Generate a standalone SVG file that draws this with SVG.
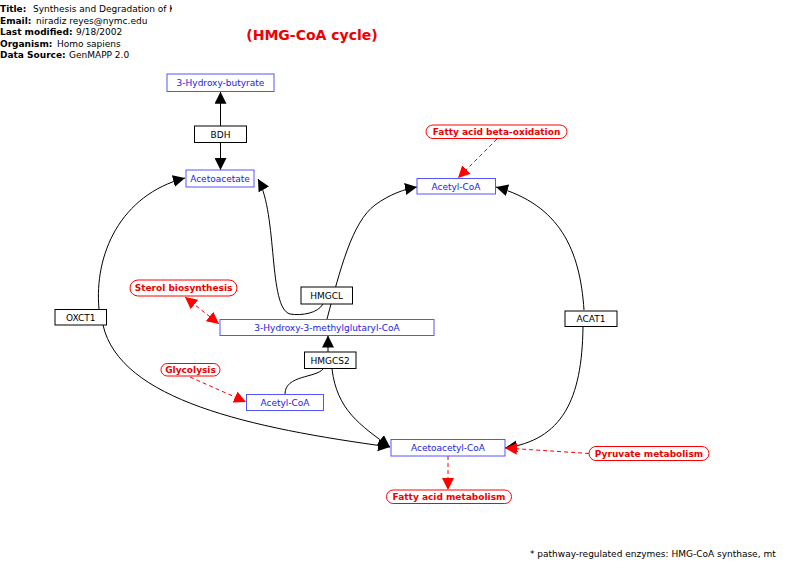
<svg xmlns="http://www.w3.org/2000/svg" width="800" height="573" viewBox="0 0 800 573">
<defs>
<style>
text{font-family:"DejaVu Sans","Noto Sans",sans-serif}
.hdr{font-size:9px;fill:#000}
.hb{font-weight:bold}
.met rect{fill:#fff;stroke:#5555ff;stroke-width:1}
.met text{fill:#2222dd;font-size:9px;text-anchor:middle}
.gene rect{fill:#fff;stroke:#000;stroke-width:1}
.gene text{fill:#000;font-size:9px;text-anchor:middle}
.pw rect{fill:#fff;stroke:#ff0000;stroke-width:1}
.pw text{fill:#ee0000;font-size:9px;font-weight:bold;text-anchor:middle}
.c{fill:none;stroke:#000;stroke-width:1}
.d{fill:none;stroke:#ff0000;stroke-width:1;stroke-dasharray:4,3}
</style>
<marker id="ab" viewBox="0 0 10 10" refX="10" refY="5" markerWidth="12" markerHeight="12" markerUnits="userSpaceOnUse" orient="auto-start-reverse"><path d="M0,0L10,5L0,10z" fill="#000"/></marker>
<marker id="ar" viewBox="0 0 10 10" refX="10" refY="5" markerWidth="12" markerHeight="12" markerUnits="userSpaceOnUse" orient="auto-start-reverse"><path d="M0,0L10,5L0,10z" fill="#ff0000"/></marker>
<clipPath id="tc"><rect x="0" y="0" width="172" height="20"/></clipPath>
</defs>
<g id="header">
<text class="hdr" x="0" y="12" clip-path="url(#tc)"><tspan class="hb">Title:</tspan><tspan x="33">Synthesis and Degradation of Ketone Bodies</tspan></text>
<text class="hdr" x="0" y="24"><tspan class="hb">Email:</tspan><tspan x="36">niradiz reyes@nymc.edu</tspan></text>
<text class="hdr" x="0" y="35"><tspan class="hb">Last modified:</tspan><tspan x="76">9/18/2002</tspan></text>
<text class="hdr" x="0" y="47"><tspan class="hb">Organism:</tspan><tspan x="57">Homo sapiens</tspan></text>
<text class="hdr" x="0" y="58"><tspan class="hb">Data Source:</tspan><tspan x="69">GenMAPP 2.0</tspan></text>
<text x="312" y="40" text-anchor="middle" style="font-size:14px;font-weight:bold;fill:#ee0000">(HMG-CoA cycle)</text>
<text class="hdr" x="530" y="557">* pathway-regulated enzymes: HMG-CoA synthase, mt</text>
</g>
<g id="connectors">
<path class="c" d="M220.5,126V91.7" marker-end="url(#ab)"/>
<path class="c" d="M220.5,142.7V170" marker-end="url(#ab)"/>
<path class="c" d="M99,309C94,255 120,195 185,178" marker-end="url(#ab)"/>
<path class="c" d="M103,325C120,400 250,428 390,447" marker-end="url(#ab)"/>
<path class="c" d="M323,304C318,313 302,316 290,314C268,308 278,215 258,179" marker-end="url(#ab)"/>
<path class="c" d="M327,319C340,270 352,222 375,205C390,194 405,189 417,187" marker-end="url(#ab)"/>
<path class="c" d="M584,310C580,250 560,205 496,187" marker-end="url(#ab)"/>
<path class="c" d="M583,327C582,400 562,440 505,448" marker-end="url(#ab)"/>
<path class="c" d="M328,352V335.5" marker-end="url(#ab)"/>
<path class="c" d="M285,394C285,375 316,378 323,369"/>
<path class="c" d="M332,369C337,410 360,425 390,447" marker-end="url(#ab)"/>
<path class="d" d="M497,139L458,178" marker-end="url(#ar)"/>
<path class="d" d="M185,297L219,324" marker-start="url(#ar)" marker-end="url(#ar)"/>
<path class="d" d="M190,377L246,402" marker-end="url(#ar)"/>
<path class="d" d="M589,453.5L505,448" marker-end="url(#ar)"/>
<path class="d" d="M448,456V490" marker-end="url(#ar)"/>
</g>
<g id="n-3hb" class="met"><rect x="167" y="74" width="107" height="17.5"/><text x="220.5" y="86">3-Hydroxy-butyrate</text></g>
<g id="n-bdh" class="gene"><rect x="194.5" y="126" width="52" height="16.5"/><text x="220.5" y="137.5">BDH</text></g>
<g id="n-acetoacetate" class="met"><rect x="186" y="170" width="68" height="17"/><text x="220" y="181.5">Acetoacetate</text></g>
<g id="n-fabo" class="pw"><rect x="426" y="125" width="141" height="13.5" rx="7"/><text x="496.5" y="135">Fatty acid beta-oxidation</text></g>
<g id="n-acetylcoa1" class="met"><rect x="417" y="178.5" width="78.5" height="15.5"/><text x="456" y="189.5">Acetyl-CoA</text></g>
<g id="n-sterol" class="pw"><rect x="130" y="280" width="107" height="16" rx="8"/><text x="183.5" y="291">Sterol biosynthesis</text></g>
<g id="n-hmgcl" class="gene"><rect x="301" y="287" width="51.5" height="17"/><text x="326.7" y="298.5">HMGCL</text></g>
<g id="n-hmgcoa" class="met"><rect x="220" y="319.5" width="214" height="16"/><text x="327" y="330.5">3-Hydroxy-3-methylglutaryl-CoA</text></g>
<g id="n-hmgcs2" class="gene"><rect x="304.5" y="352" width="51.5" height="16.5"/><text x="330" y="363.5">HMGCS2</text></g>
<g id="n-glycolysis" class="pw"><rect x="161" y="363.5" width="59" height="12.5" rx="6.2"/><text x="190.5" y="373">Glycolysis</text></g>
<g id="n-acetylcoa2" class="met"><rect x="246.5" y="394.5" width="77" height="16"/><text x="285" y="405.5">Acetyl-CoA</text></g>
<g id="n-oxct1" class="gene"><rect x="55" y="309.5" width="51.5" height="15.5"/><text x="80.7" y="320.5">OXCT1</text></g>
<g id="n-acat1" class="gene"><rect x="565" y="311" width="52" height="15.5"/><text x="591" y="322">ACAT1</text></g>
<g id="n-acetoacetylcoa" class="met"><rect x="391" y="439.5" width="114" height="16.5"/><text x="448" y="451">Acetoacetyl-CoA</text></g>
<g id="n-pyruvate" class="pw"><rect x="589" y="446.5" width="120" height="14" rx="7"/><text x="649" y="456.8">Pyruvate metabolism</text></g>
<g id="n-fam" class="pw"><rect x="386.5" y="490" width="125" height="13.5" rx="6.7"/><text x="449" y="500">Fatty acid metabolism</text></g>
</svg>
